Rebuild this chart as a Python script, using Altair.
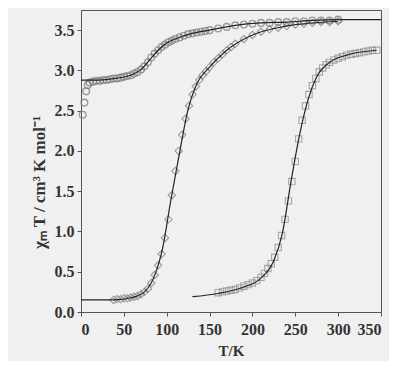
import altair as alt
import pandas as pd

# Series A (circles)
tA = [2,4,6,8,10,14,18,22,26,30,34,38,42,46,50,54,58,62,66,70,74,78,82,86,90,94,98,102,106,110,115,120,125,130,135,140,145,150,160,170,180,190,200,210,220,230,240,250,260,270,280,290,300]
chiA = [2.45,2.6,2.74,2.82,2.85,2.86,2.87,2.87,2.88,2.88,2.89,2.9,2.9,2.91,2.92,2.93,2.94,2.96,2.98,3.01,3.05,3.1,3.16,3.21,3.25,3.29,3.32,3.35,3.37,3.39,3.41,3.43,3.45,3.46,3.47,3.48,3.49,3.5,3.52,3.54,3.56,3.57,3.58,3.59,3.59,3.6,3.6,3.61,3.61,3.62,3.62,3.62,3.63]
fitA_t = [0,20,40,60,70,80,90,100,110,130,150,180,210,240,270,300,350]
fitA_y = [2.88,2.88,2.9,2.95,3.01,3.13,3.25,3.34,3.39,3.46,3.5,3.56,3.59,3.6,3.62,3.63,3.63]

# Series B (diamonds)
tB = [38,42,46,50,54,58,62,66,70,74,78,82,86,90,94,98,102,106,110,114,118,122,126,130,134,138,142,146,150,155,160,165,170,175,180,190,200,210,220,230,240,250,260,270,280,290,300]
chiB = [0.15,0.16,0.16,0.17,0.17,0.18,0.19,0.2,0.22,0.25,0.29,0.36,0.46,0.58,0.72,0.92,1.15,1.45,1.75,2.0,2.2,2.4,2.56,2.7,2.8,2.88,2.94,2.99,3.04,3.1,3.15,3.2,3.25,3.29,3.33,3.39,3.44,3.48,3.51,3.53,3.55,3.57,3.58,3.59,3.6,3.6,3.61]
fitB_t = [0,38,60,75,85,95,105,115,125,135,150,170,200,240,300]
fitB_y = [0.15,0.15,0.18,0.26,0.43,0.78,1.4,1.98,2.52,2.83,3.04,3.25,3.44,3.55,3.61]

# Series C (squares)
tC = [160,165,170,175,180,185,190,195,200,205,210,214,218,222,226,230,234,238,242,246,250,254,258,262,266,270,274,278,282,286,290,295,300,305,310,315,320,325,330,335,340,345]
chiC = [0.24,0.25,0.26,0.27,0.28,0.3,0.32,0.34,0.36,0.39,0.43,0.48,0.54,0.6,0.68,0.8,0.95,1.15,1.38,1.62,1.87,2.15,2.38,2.56,2.7,2.81,2.9,2.98,3.03,3.07,3.1,3.13,3.15,3.17,3.19,3.2,3.21,3.22,3.23,3.24,3.25,3.25]
fitC_t = [130,160,190,210,225,235,245,255,265,275,290,310,345]
fitC_y = [0.19,0.23,0.31,0.42,0.64,0.98,1.62,2.2,2.64,2.92,3.1,3.19,3.25]

x_ticks = [0,50,100,150,200,250,300,350]
y_ticks = [0.0,0.5,1.0,1.5,2.0,2.5,3.0,3.5]

FONT = "Liberation Serif"
xs = alt.Scale(domain=[0, 350], nice=False)
ys = alt.Scale(domain=[0, 3.75], nice=False)

xenc = alt.X("T:Q", scale=xs, axis=alt.Axis(values=x_ticks, title="T/K", format="d", grid=False,
                                            labelFont=FONT, labelFontWeight="bold", labelFontSize=16,
                                            titleFont=FONT, titleFontWeight="bold", titleFontSize=15,
                                            labelColor="#333", titleColor="#333", domainColor="#555",
                                            tickColor="#555", tickSize=4, labelPadding=5, titlePadding=6))
yenc = alt.Y("chi:Q", scale=ys, axis=alt.Axis(values=y_ticks, title="χₘ T / cm³ K mol⁻¹", format=".1f", grid=False,
                                              labelFont=FONT, labelFontWeight="bold", labelFontSize=16,
                                              titleFont=FONT, titleFontWeight="bold", titleFontSize=17,
                                              labelColor="#333", titleColor="#333", domainColor="#555",
                                              tickColor="#555", tickSize=4, labelPadding=3, titlePadding=6,
                                              titleY=172))

def df(t, y):
    return pd.DataFrame({"T": t, "chi": y})

ptsA = alt.Chart(df(tA, chiA)).mark_point(shape="circle", size=45, filled=False, stroke="#777", strokeWidth=1.4).encode(x=xenc, y=yenc)
ptsB = alt.Chart(df(tB, chiB)).mark_point(shape="diamond", size=55, filled=False, stroke="#777", strokeWidth=1.1).encode(x=xenc, y=yenc)
ptsC = alt.Chart(df(tC, chiC)).mark_point(shape="square", size=40, filled=False, stroke="#888", strokeWidth=1.1).encode(x=xenc, y=yenc)

lineA = alt.Chart(df(fitA_t, fitA_y)).mark_line(color="#222", strokeWidth=1.2, interpolate="monotone").encode(x=xenc, y=yenc)
lineB = alt.Chart(df(fitB_t, fitB_y)).mark_line(color="#222", strokeWidth=1.2, interpolate="monotone").encode(x=xenc, y=yenc)
lineC = alt.Chart(df(fitC_t, fitC_y)).mark_line(color="#222", strokeWidth=1.2, interpolate="monotone").encode(x=xenc, y=yenc)

chart = alt.layer(ptsA, ptsB, ptsC, lineA, lineB, lineC).properties(
    width=300, height=302,
    background="#f0f0f0",
    autosize=alt.AutoSizeParams(type="none"),
    padding={"left": 73, "top": 2, "right": 8, "bottom": 49},
).configure_view(stroke="#555", strokeWidth=1)

chart.save("out.html", embed_options={"renderer": "svg", "actions": False})
